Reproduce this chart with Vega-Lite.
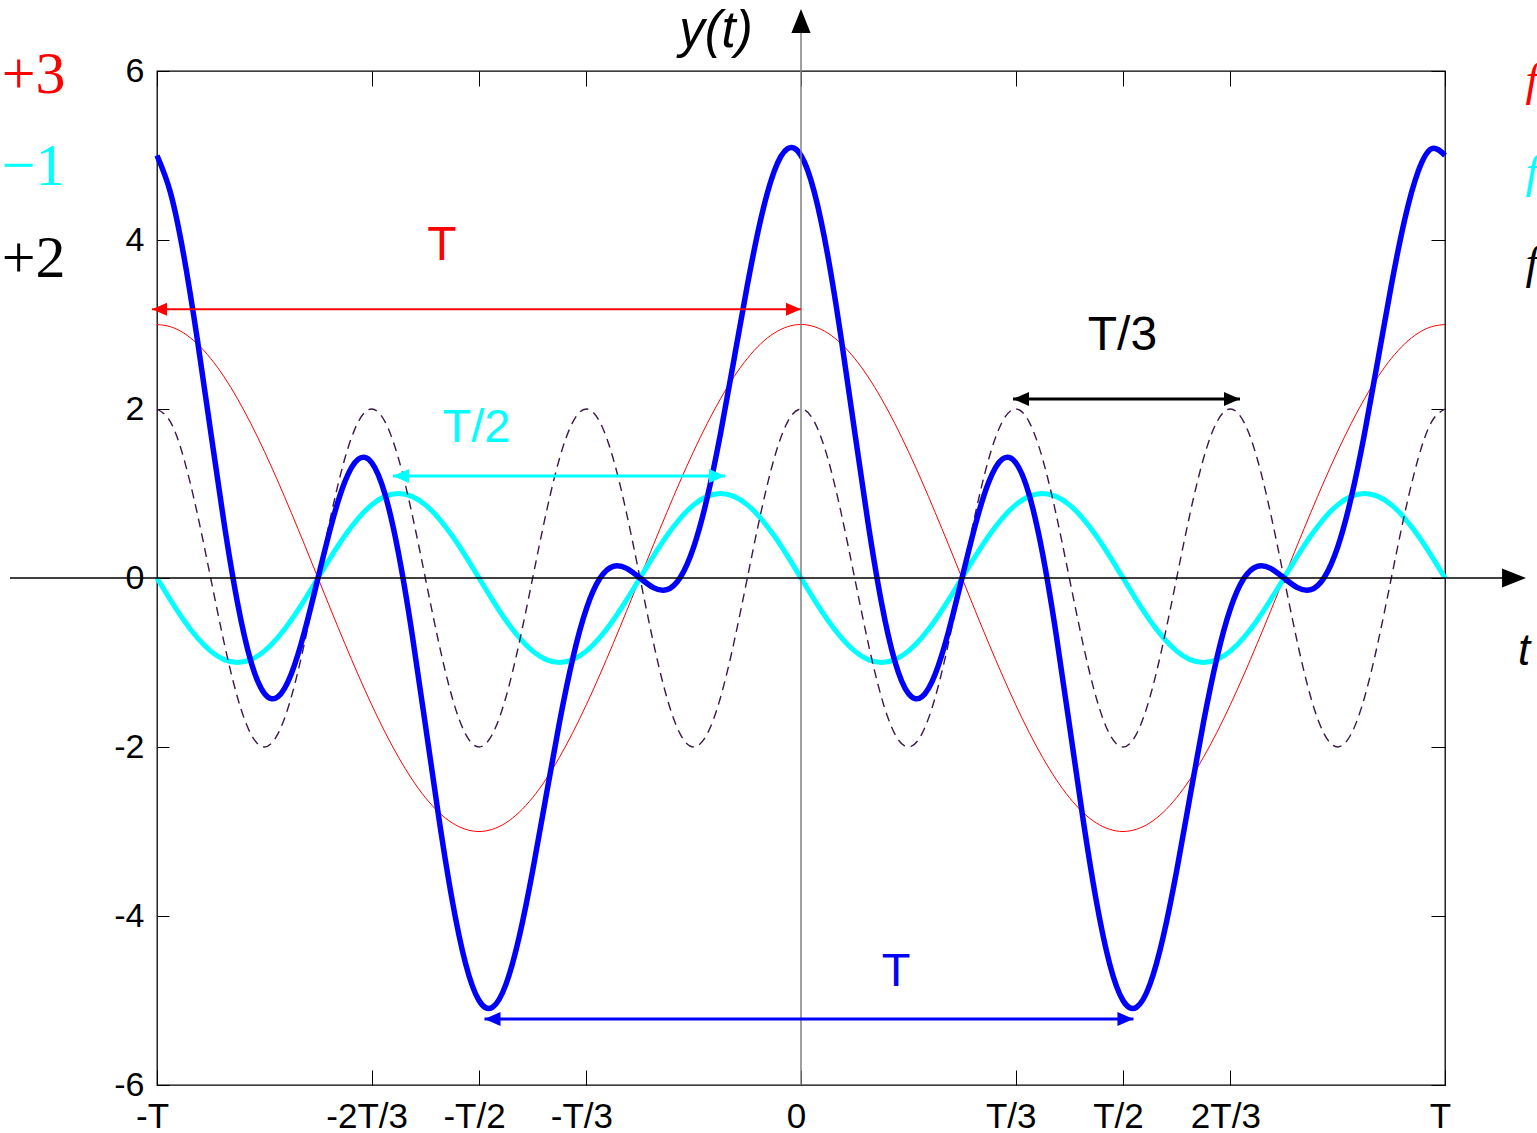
{
  "$schema": "https://vega.github.io/schema/vega-lite/v6.json",
  "width": 1288,
  "height": 1014,
  "autosize": "none",
  "padding": {"left": 157, "top": 71, "right": 92, "bottom": 48},
  "background": "white",
  "config": {"view": {"stroke": "black", "strokeWidth": 1.3}, "font": "Liberation Sans"},
  "datasets": {
    "curves": [
      {"k": -48, "r": 3, "c": 0, "b": 2, "s": 5},
      {"k": -47, "r": 2.974, "c": -0.259, "b": 1.848, "s": 4.563},
      {"k": -46, "r": 2.898, "c": -0.5, "b": 1.414, "s": 3.812},
      {"k": -45, "r": 2.772, "c": -0.707, "b": 0.765, "s": 2.83},
      {"k": -44, "r": 2.598, "c": -0.866, "b": 0, "s": 1.732},
      {"k": -43, "r": 2.38, "c": -0.966, "b": -0.765, "s": 0.649},
      {"k": -42, "r": 2.121, "c": -1, "b": -1.414, "s": -0.293},
      {"k": -41, "r": 1.826, "c": -0.966, "b": -1.848, "s": -0.988},
      {"k": -40, "r": 1.5, "c": -0.866, "b": -2, "s": -1.366},
      {"k": -39, "r": 1.148, "c": -0.707, "b": -1.848, "s": -1.407},
      {"k": -38, "r": 0.776, "c": -0.5, "b": -1.414, "s": -1.138},
      {"k": -37, "r": 0.392, "c": -0.259, "b": -0.765, "s": -0.632},
      {"k": -36, "r": 0, "c": 0, "b": 0, "s": 0},
      {"k": -35, "r": -0.392, "c": 0.259, "b": 0.765, "s": 0.632},
      {"k": -34, "r": -0.776, "c": 0.5, "b": 1.414, "s": 1.138},
      {"k": -33, "r": -1.148, "c": 0.707, "b": 1.848, "s": 1.407},
      {"k": -32, "r": -1.5, "c": 0.866, "b": 2, "s": 1.366},
      {"k": -31, "r": -1.826, "c": 0.966, "b": 1.848, "s": 0.988},
      {"k": -30, "r": -2.121, "c": 1, "b": 1.414, "s": 0.293},
      {"k": -29, "r": -2.38, "c": 0.966, "b": 0.765, "s": -0.649},
      {"k": -28, "r": -2.598, "c": 0.866, "b": 0, "s": -1.732},
      {"k": -27, "r": -2.772, "c": 0.707, "b": -0.765, "s": -2.83},
      {"k": -26, "r": -2.898, "c": 0.5, "b": -1.414, "s": -3.812},
      {"k": -25, "r": -2.974, "c": 0.259, "b": -1.848, "s": -4.563},
      {"k": -24, "r": -3, "c": 0, "b": -2, "s": -5},
      {"k": -23, "r": -2.974, "c": -0.259, "b": -1.848, "s": -5.081},
      {"k": -22, "r": -2.898, "c": -0.5, "b": -1.414, "s": -4.812},
      {"k": -21, "r": -2.772, "c": -0.707, "b": -0.765, "s": -4.244},
      {"k": -20, "r": -2.598, "c": -0.866, "b": 0, "s": -3.464},
      {"k": -19, "r": -2.38, "c": -0.966, "b": 0.765, "s": -2.581},
      {"k": -18, "r": -2.121, "c": -1, "b": 1.414, "s": -1.707},
      {"k": -17, "r": -1.826, "c": -0.966, "b": 1.848, "s": -0.944},
      {"k": -16, "r": -1.5, "c": -0.866, "b": 2, "s": -0.366},
      {"k": -15, "r": -1.148, "c": -0.707, "b": 1.848, "s": -0.007},
      {"k": -14, "r": -0.776, "c": -0.5, "b": 1.414, "s": 0.138},
      {"k": -13, "r": -0.392, "c": -0.259, "b": 0.765, "s": 0.114},
      {"k": -12, "r": 0, "c": 0, "b": 0, "s": 0},
      {"k": -11, "r": 0.392, "c": 0.259, "b": -0.765, "s": -0.114},
      {"k": -10, "r": 0.776, "c": 0.5, "b": -1.414, "s": -0.138},
      {"k": -9, "r": 1.148, "c": 0.707, "b": -1.848, "s": 0.007},
      {"k": -8, "r": 1.5, "c": 0.866, "b": -2, "s": 0.366},
      {"k": -7, "r": 1.826, "c": 0.966, "b": -1.848, "s": 0.944},
      {"k": -6, "r": 2.121, "c": 1, "b": -1.414, "s": 1.707},
      {"k": -5, "r": 2.38, "c": 0.966, "b": -0.765, "s": 2.581},
      {"k": -4, "r": 2.598, "c": 0.866, "b": 0, "s": 3.464},
      {"k": -3, "r": 2.772, "c": 0.707, "b": 0.765, "s": 4.244},
      {"k": -2, "r": 2.898, "c": 0.5, "b": 1.414, "s": 4.812},
      {"k": -1, "r": 2.974, "c": 0.259, "b": 1.848, "s": 5.081},
      {"k": 0, "r": 3, "c": 0, "b": 2, "s": 5},
      {"k": 1, "r": 2.974, "c": -0.259, "b": 1.848, "s": 4.563},
      {"k": 2, "r": 2.898, "c": -0.5, "b": 1.414, "s": 3.812},
      {"k": 3, "r": 2.772, "c": -0.707, "b": 0.765, "s": 2.83},
      {"k": 4, "r": 2.598, "c": -0.866, "b": 0, "s": 1.732},
      {"k": 5, "r": 2.38, "c": -0.966, "b": -0.765, "s": 0.649},
      {"k": 6, "r": 2.121, "c": -1, "b": -1.414, "s": -0.293},
      {"k": 7, "r": 1.826, "c": -0.966, "b": -1.848, "s": -0.988},
      {"k": 8, "r": 1.5, "c": -0.866, "b": -2, "s": -1.366},
      {"k": 9, "r": 1.148, "c": -0.707, "b": -1.848, "s": -1.407},
      {"k": 10, "r": 0.776, "c": -0.5, "b": -1.414, "s": -1.138},
      {"k": 11, "r": 0.392, "c": -0.259, "b": -0.765, "s": -0.632},
      {"k": 12, "r": 0, "c": 0, "b": 0, "s": 0},
      {"k": 13, "r": -0.392, "c": 0.259, "b": 0.765, "s": 0.632},
      {"k": 14, "r": -0.776, "c": 0.5, "b": 1.414, "s": 1.138},
      {"k": 15, "r": -1.148, "c": 0.707, "b": 1.848, "s": 1.407},
      {"k": 16, "r": -1.5, "c": 0.866, "b": 2, "s": 1.366},
      {"k": 17, "r": -1.826, "c": 0.966, "b": 1.848, "s": 0.988},
      {"k": 18, "r": -2.121, "c": 1, "b": 1.414, "s": 0.293},
      {"k": 19, "r": -2.38, "c": 0.966, "b": 0.765, "s": -0.649},
      {"k": 20, "r": -2.598, "c": 0.866, "b": 0, "s": -1.732},
      {"k": 21, "r": -2.772, "c": 0.707, "b": -0.765, "s": -2.83},
      {"k": 22, "r": -2.898, "c": 0.5, "b": -1.414, "s": -3.812},
      {"k": 23, "r": -2.974, "c": 0.259, "b": -1.848, "s": -4.563},
      {"k": 24, "r": -3, "c": 0, "b": -2, "s": -5},
      {"k": 25, "r": -2.974, "c": -0.259, "b": -1.848, "s": -5.081},
      {"k": 26, "r": -2.898, "c": -0.5, "b": -1.414, "s": -4.812},
      {"k": 27, "r": -2.772, "c": -0.707, "b": -0.765, "s": -4.244},
      {"k": 28, "r": -2.598, "c": -0.866, "b": 0, "s": -3.464},
      {"k": 29, "r": -2.38, "c": -0.966, "b": 0.765, "s": -2.581},
      {"k": 30, "r": -2.121, "c": -1, "b": 1.414, "s": -1.707},
      {"k": 31, "r": -1.826, "c": -0.966, "b": 1.848, "s": -0.944},
      {"k": 32, "r": -1.5, "c": -0.866, "b": 2, "s": -0.366},
      {"k": 33, "r": -1.148, "c": -0.707, "b": 1.848, "s": -0.007},
      {"k": 34, "r": -0.776, "c": -0.5, "b": 1.414, "s": 0.138},
      {"k": 35, "r": -0.392, "c": -0.259, "b": 0.765, "s": 0.114},
      {"k": 36, "r": 0, "c": 0, "b": 0, "s": 0},
      {"k": 37, "r": 0.392, "c": 0.259, "b": -0.765, "s": -0.114},
      {"k": 38, "r": 0.776, "c": 0.5, "b": -1.414, "s": -0.138},
      {"k": 39, "r": 1.148, "c": 0.707, "b": -1.848, "s": 0.007},
      {"k": 40, "r": 1.5, "c": 0.866, "b": -2, "s": 0.366},
      {"k": 41, "r": 1.826, "c": 0.966, "b": -1.848, "s": 0.944},
      {"k": 42, "r": 2.121, "c": 1, "b": -1.414, "s": 1.707},
      {"k": 43, "r": 2.38, "c": 0.966, "b": -0.765, "s": 2.581},
      {"k": 44, "r": 2.598, "c": 0.866, "b": 0, "s": 3.464},
      {"k": 45, "r": 2.772, "c": 0.707, "b": 0.765, "s": 4.244},
      {"k": 46, "r": 2.898, "c": 0.5, "b": 1.414, "s": 4.812},
      {"k": 47, "r": 2.974, "c": 0.259, "b": 1.848, "s": 5.081},
      {"k": 48, "r": 3, "c": 0, "b": 2, "s": 5}
    ],
    "arrows": [
      {"x1": -48.37, "x2": 0, "y": 3.18, "col": "#FF0000", "w": 2},
      {"x1": -30.41, "x2": -5.66, "y": 1.207, "col": "#00FFFF", "w": 3},
      {"x1": 15.8, "x2": 32.72, "y": 2.118, "col": "#000000", "w": 3},
      {"x1": -23.59, "x2": 24.78, "y": -5.219, "col": "#0000FF", "w": 3}
    ],
    "heads": [
      {"x": -48.37, "y": 3.18, "col": "#FF0000", "sz": 225, "dir": "L"},
      {"x": 0, "y": 3.18, "col": "#FF0000", "sz": 225, "dir": "R"},
      {"x": -30.41, "y": 1.207, "col": "#00FFFF", "sz": 256, "dir": "L"},
      {"x": -5.66, "y": 1.207, "col": "#00FFFF", "sz": 256, "dir": "R"},
      {"x": 15.8, "y": 2.118, "col": "#000000", "sz": 256, "dir": "L"},
      {"x": 32.72, "y": 2.118, "col": "#000000", "sz": 256, "dir": "R"},
      {"x": -23.59, "y": -5.219, "col": "#0000FF", "sz": 256, "dir": "L"},
      {"x": 24.78, "y": -5.219, "col": "#0000FF", "sz": 256, "dir": "R"}
    ],
    "sansText": [
      {"x": -26.76, "y": 3.763, "text": "T", "col": "#FF0000", "size": 48},
      {"x": -24.19, "y": 1.613, "text": "T/2", "col": "#00FFFF", "size": 47},
      {"x": 23.96, "y": 2.698, "text": "T/3", "col": "#000000", "size": 48},
      {"x": 7.08, "y": -4.828, "text": "T", "col": "#0000FF", "size": 47}
    ],
    "italicText": [
      {"x": -6.34, "y": 6.284, "text": "y(t)", "size": 51},
      {"x": 53.9, "y": -1.03, "text": "t", "size": 44}
    ],
    "serifText": [
      {"x": -57.2, "y": 5.74, "text": "+3", "col": "#FF0000"},
      {"x": -57.2, "y": 4.651, "text": "−1", "col": "#00FFFF"},
      {"x": -57.2, "y": 3.562, "text": "+2", "col": "#000000"}
    ],
    "serifItalic": [
      {"x": 54.0, "y": 5.72, "text": "f", "col": "#FF0000"},
      {"x": 54.0, "y": 4.63, "text": "f", "col": "#00FFFF"},
      {"x": 54.0, "y": 3.55, "text": "f", "col": "#000000"}
    ],
    "hline": [{"x1": -58.96, "x2": 52.5, "y": 0}],
    "vline": [{"x": 0, "y1": -6, "y2": 6.5}],
    "harrow": [{"x": 54.04, "y": 0}],
    "varrow": [{"x": 0, "y": 6.734}]
  },
  "layer": [
    {
      "data": {"name": "curves"},
      "mark": {"type": "line", "color": "#FF0000", "strokeWidth": 1, "interpolate": "natural"},
      "encoding": {
        "x": {"field": "k", "type": "quantitative", "scale": {"domain": [-48, 48], "nice": false, "zero": false},
          "axis": {"orient": "bottom", "values": [-48, -32, -24, -16, 0, 16, 24, 32, 48],
            "labelExpr": "datum.value==-48?'-T':datum.value==-32?'-2T/3':datum.value==-24?'-T/2':datum.value==-16?'-T/3':datum.value==0?'0':datum.value==16?'T/3':datum.value==24?'T/2':datum.value==32?'2T/3':'T'",
            "tickSize": -15, "tickColor": "black", "tickWidth": 1, "labelPadding": 29, "labelFontSize": 35, "labelFont": "Liberation Sans",
            "labelColor": "black", "labelOffset": -5, "labelFlush": false, "labelOverlap": false, "domain": false, "grid": false, "title": null}},
        "y": {"field": "r", "type": "quantitative", "scale": {"domain": [-6, 6], "nice": false, "zero": false},
          "axis": {"orient": "left", "values": [-6, -4, -2, 0, 2, 4, 6], "labelExpr": "'' + datum.value",
            "tickSize": -12, "tickColor": "black", "tickWidth": 1, "labelPadding": 25, "labelFontSize": 34, "labelFont": "Liberation Sans",
            "labelColor": "black", "labelFlush": false, "labelOverlap": false, "domain": false, "grid": false, "title": null}}
      }
    },
    {
      "data": {"name": "curves"},
      "mark": {"type": "line", "color": "#00FFFF", "strokeWidth": 5, "interpolate": "natural"},
      "encoding": {
        "x": {"field": "k", "type": "quantitative", "scale": {"domain": [-48, 48], "nice": false, "zero": false},
          "axis": {"orient": "top", "values": [-48, -32, -24, -16, 0, 16, 24, 32, 48], "labels": false,
            "tickSize": -15, "tickColor": "black", "tickWidth": 1, "domain": false, "grid": false, "title": null}},
        "y": {"field": "c", "type": "quantitative", "scale": {"domain": [-6, 6], "nice": false, "zero": false},
          "axis": {"orient": "right", "values": [-6, -4, -2, 0, 2, 4, 6], "labels": false,
            "tickSize": -14, "tickColor": "black", "tickWidth": 1, "domain": false, "grid": false, "title": null}}
      }
    },
    {
      "data": {"name": "curves"},
      "mark": {"type": "line", "color": "#3a1848", "strokeWidth": 1.4, "strokeDash": [9, 6], "interpolate": "natural"},
      "encoding": {
        "x": {"field": "k", "type": "quantitative", "scale": {"domain": [-48, 48]}, "axis": null},
        "y": {"field": "b", "type": "quantitative", "scale": {"domain": [-6, 6]}, "axis": null}
      }
    },
    {
      "data": {"name": "curves"},
      "mark": {"type": "line", "color": "#0000FF", "strokeWidth": 5.5, "interpolate": "natural"},
      "encoding": {
        "x": {"field": "k", "type": "quantitative", "scale": {"domain": [-48, 48]}, "axis": null},
        "y": {"field": "s", "type": "quantitative", "scale": {"domain": [-6, 6]}, "axis": null}
      }
    },
    {
      "data": {"name": "vline"},
      "mark": {"type": "rule", "color": "#808080", "strokeWidth": 1.5},
      "encoding": {
        "x": {"field": "x", "type": "quantitative", "scale": {"domain": [-48, 48]}, "axis": null},
        "y": {"field": "y1", "type": "quantitative", "scale": {"domain": [-6, 6]}, "axis": null},
        "y2": {"field": "y2"}
      }
    },
    {
      "data": {"name": "hline"},
      "mark": {"type": "rule", "color": "#000000", "strokeWidth": 1.5},
      "encoding": {
        "x": {"field": "x1", "type": "quantitative", "scale": {"domain": [-48, 48]}, "axis": null},
        "x2": {"field": "x2"},
        "y": {"field": "y", "type": "quantitative", "scale": {"domain": [-6, 6]}, "axis": null}
      }
    },
    {
      "data": {"name": "harrow"},
      "mark": {"type": "point", "shape": "M0,0L-2,-0.8L-2,0.8Z", "size": 576, "filled": true, "color": "#000000", "opacity": 1, "strokeWidth": 0},
      "encoding": {
        "x": {"field": "x", "type": "quantitative", "scale": {"domain": [-48, 48]}, "axis": null},
        "y": {"field": "y", "type": "quantitative", "scale": {"domain": [-6, 6]}, "axis": null}
      }
    },
    {
      "data": {"name": "varrow"},
      "mark": {"type": "point", "shape": "M0,0L-0.8,2L0.8,2Z", "size": 576, "filled": true, "color": "#000000", "opacity": 1, "strokeWidth": 0},
      "encoding": {
        "x": {"field": "x", "type": "quantitative", "scale": {"domain": [-48, 48]}, "axis": null},
        "y": {"field": "y", "type": "quantitative", "scale": {"domain": [-6, 6]}, "axis": null}
      }
    },
    {
      "data": {"name": "arrows"},
      "mark": {"type": "rule"},
      "encoding": {
        "x": {"field": "x1", "type": "quantitative", "scale": {"domain": [-48, 48]}, "axis": null},
        "x2": {"field": "x2"},
        "y": {"field": "y", "type": "quantitative", "scale": {"domain": [-6, 6]}, "axis": null},
        "color": {"field": "col", "type": "nominal", "scale": null},
        "strokeWidth": {"field": "w", "type": "quantitative", "scale": null}
      }
    },
    {
      "data": {"name": "heads"},
      "transform": [{"filter": "datum.dir == 'L'"}],
      "mark": {"type": "point", "shape": "M0,0L2,-0.87L2,0.87Z", "filled": true, "opacity": 1, "strokeWidth": 0},
      "encoding": {
        "x": {"field": "x", "type": "quantitative", "scale": {"domain": [-48, 48]}, "axis": null},
        "y": {"field": "y", "type": "quantitative", "scale": {"domain": [-6, 6]}, "axis": null},
        "color": {"field": "col", "type": "nominal", "scale": null},
        "size": {"field": "sz", "type": "quantitative", "scale": null}
      }
    },
    {
      "data": {"name": "heads"},
      "transform": [{"filter": "datum.dir == 'R'"}],
      "mark": {"type": "point", "shape": "M0,0L-2,-0.87L-2,0.87Z", "filled": true, "opacity": 1, "strokeWidth": 0},
      "encoding": {
        "x": {"field": "x", "type": "quantitative", "scale": {"domain": [-48, 48]}, "axis": null},
        "y": {"field": "y", "type": "quantitative", "scale": {"domain": [-6, 6]}, "axis": null},
        "color": {"field": "col", "type": "nominal", "scale": null},
        "size": {"field": "sz", "type": "quantitative", "scale": null}
      }
    },
    {
      "data": {"name": "sansText"},
      "mark": {"type": "text", "font": "Liberation Sans", "align": "center", "baseline": "alphabetic"},
      "encoding": {
        "x": {"field": "x", "type": "quantitative", "scale": {"domain": [-48, 48]}, "axis": null},
        "y": {"field": "y", "type": "quantitative", "scale": {"domain": [-6, 6]}, "axis": null},
        "text": {"field": "text"},
        "color": {"field": "col", "type": "nominal", "scale": null},
        "size": {"field": "size", "type": "quantitative", "scale": null}
      }
    },
    {
      "data": {"name": "italicText"},
      "mark": {"type": "text", "font": "Liberation Sans", "fontStyle": "italic", "align": "center", "baseline": "alphabetic", "color": "#000000"},
      "encoding": {
        "x": {"field": "x", "type": "quantitative", "scale": {"domain": [-48, 48]}, "axis": null},
        "y": {"field": "y", "type": "quantitative", "scale": {"domain": [-6, 6]}, "axis": null},
        "text": {"field": "text"},
        "size": {"field": "size", "type": "quantitative", "scale": null}
      }
    },
    {
      "data": {"name": "serifText"},
      "mark": {"type": "text", "font": "Liberation Serif", "fontSize": 60, "align": "center", "baseline": "alphabetic"},
      "encoding": {
        "x": {"field": "x", "type": "quantitative", "scale": {"domain": [-48, 48]}, "axis": null},
        "y": {"field": "y", "type": "quantitative", "scale": {"domain": [-6, 6]}, "axis": null},
        "text": {"field": "text"},
        "color": {"field": "col", "type": "nominal", "scale": null}
      }
    },
    {
      "data": {"name": "serifItalic"},
      "mark": {"type": "text", "font": "Liberation Serif", "fontStyle": "italic", "fontSize": 46, "align": "left", "baseline": "alphabetic"},
      "encoding": {
        "x": {"field": "x", "type": "quantitative", "scale": {"domain": [-48, 48]}, "axis": null},
        "y": {"field": "y", "type": "quantitative", "scale": {"domain": [-6, 6]}, "axis": null},
        "text": {"field": "text"},
        "color": {"field": "col", "type": "nominal", "scale": null}
      }
    }
  ],
  "resolve": {"axis": {"x": "independent", "y": "independent"}}
}
